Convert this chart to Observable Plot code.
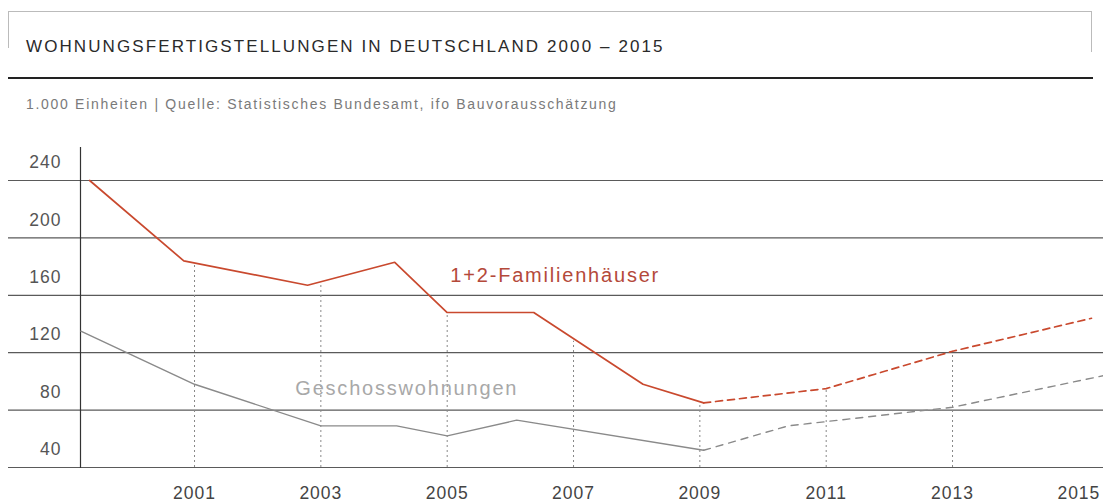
<!DOCTYPE html>
<html>
<head>
<meta charset="utf-8">
<script src="https://cdn.jsdelivr.net/npm/d3@7"></script>
<script src="https://cdn.jsdelivr.net/npm/@observablehq/plot@0.6"></script>
<style>
  body { margin: 0; background: #fff; font-family: "Liberation Sans", Arial, sans-serif; }
  #wrap { position: relative; width: 1103px; height: 504px; overflow: hidden; background: #fff; }
  #frameL { position: absolute; left: 8px; top: 11px; width: 1px; height: 37px; background: #bbb; }
  #frameT { position: absolute; left: 8px; top: 11px; width: 1084px; height: 1px; background: #bbb; }
  #frameR { position: absolute; left: 1091px; top: 11px; width: 1px; height: 41px; background: #bbb; }
  #title { position: absolute; left: 26px; top: 37px; font-size: 17px; letter-spacing: 2.1px; color: #2a2a2a; white-space: nowrap; }
  #rule { position: absolute; left: 8px; top: 77px; width: 1085px; height: 2px; background: #222; }
  #sub { position: absolute; left: 26px; top: 96px; font-size: 14px; letter-spacing: 1.7px; color: #7a7a7a; white-space: nowrap; }
  #chart { position: absolute; left: 0; top: 140px; }
</style>
</head>
<body>
<div id="wrap">
  <div id="frameT"></div><div id="frameL"></div><div id="frameR"></div>
  <div id="title">WOHNUNGSFERTIGSTELLUNGEN IN DEUTSCHLAND 2000 – 2015</div>
  <div id="rule"></div>
  <div id="sub">1.000 Einheiten | Quelle: Statistisches Bundesamt, ifo Bauvorausschätzung</div>
  <div id="chart"></div>
</div>
<script>
// 1+2-Familienhäuser (actual, then forecast)
const famYears = [1999.34, 2000.83, 2002.79, 2004.17, 2005.0, 2006.37, 2008.1, 2009.06];
const famValues = [240, 184, 167, 183, 148, 148, 98, 85];
const famForecastYears = [2009.06, 2011, 2013, 2015.2];
const famForecastValues = [85, 95, 121, 144];

// Geschosswohnungen (actual, then forecast)
const mfhYears = [1999.2, 2001, 2003, 2004.2, 2005, 2006.1, 2009.06];
const mfhValues = [135, 98, 69, 69, 62, 73, 52];
const mfhForecastYears = [2009.06, 2010.4, 2011, 2013, 2015.39];
const mfhForecastValues = [52, 69, 72, 82, 104];

// dotted drop lines at the labelled years
const dropYears = [2001, 2003, 2005, 2007, 2009, 2011, 2013];
const dropTops = [182, 169, 148, 128, 85, 95, 121];

// ticks
const yTicks = [40, 80, 120, 160, 200, 240];
const xTicks = [2001, 2003, 2005, 2007, 2009, 2011, 2013, 2015];

// series labels
const seriesLabels = ["1+2-Familienhäuser", "Geschosswohnungen"];
const labelYears = [2006.71, 2004.36];
const labelValues = [174, 95];

const zip = (xs, ys) => xs.map((x, i) => ({x, y: ys[i]}));
const fam = zip(famYears, famValues);
const famF = zip(famForecastYears, famForecastValues);
const mfh = zip(mfhYears, mfhValues);
const mfhF = zip(mfhForecastYears, mfhForecastValues);
const drops = zip(dropYears, dropTops);
const labels = seriesLabels.map((t, i) => ({t, x: labelYears[i], y: labelValues[i]}));

const RED = "#c9492e";
const GRAY = "#8a8a8a";

const chart = Plot.plot({
  width: 1103,
  height: 364,
  marginLeft: 80,
  marginRight: 0,
  marginTop: 7,
  marginBottom: 37,
  x: {domain: [1999.195, 2015.39]},
  y: {domain: [40, 263]},
  style: {fontFamily: "'Liberation Sans', Arial, sans-serif", background: "#fff", overflow: "visible"},
  marks: [
    Plot.ruleY(yTicks, {stroke: "#5a5a5a", strokeWidth: 1.2, insetLeft: -72}),
    Plot.ruleX(drops, {x: "x", y1: 40, y2: "y", stroke: "#888", strokeWidth: 1, strokeDasharray: "2,3"}),
    Plot.frame({anchor: "left", stroke: "#333", strokeWidth: 1.2}),
    Plot.line(mfh, {x: "x", y: "y", stroke: GRAY, strokeWidth: 1.4}),
    Plot.line(mfhF, {x: "x", y: "y", stroke: GRAY, strokeWidth: 1.4, strokeDasharray: "7,6"}),
    Plot.line(fam, {x: "x", y: "y", stroke: RED, strokeWidth: 1.7}),
    Plot.line(famF, {x: "x", y: "y", stroke: RED, strokeWidth: 1.7, strokeDasharray: "7,5"}),
    Plot.text(labels.slice(0, 1), {x: "x", y: "y", text: "t", fill: "#b4493a", fontSize: 20}),
    Plot.text(labels.slice(1), {x: "x", y: "y", text: "t", fill: "#a8a8a8", fontSize: 20}),
    Plot.axisY(yTicks, {tickSize: 0, tickPadding: 19, dy: -18, fontSize: 17.5, color: "#555", label: null}),
    Plot.axisX(xTicks, {tickSize: 0, tickPadding: 19, fontSize: 17.5, color: "#444", label: null, tickFormat: d => String(d)})
  ]
});
document.getElementById("chart").appendChild(chart);
chart.querySelectorAll('[aria-label="text"] text').forEach(t => t.setAttribute("letter-spacing", "1.8"));
chart.querySelectorAll('[aria-label="y-axis tick label"] text, [aria-label="x-axis tick label"] text').forEach(t => t.setAttribute("letter-spacing", "1"));
</script>
</body>
</html>
